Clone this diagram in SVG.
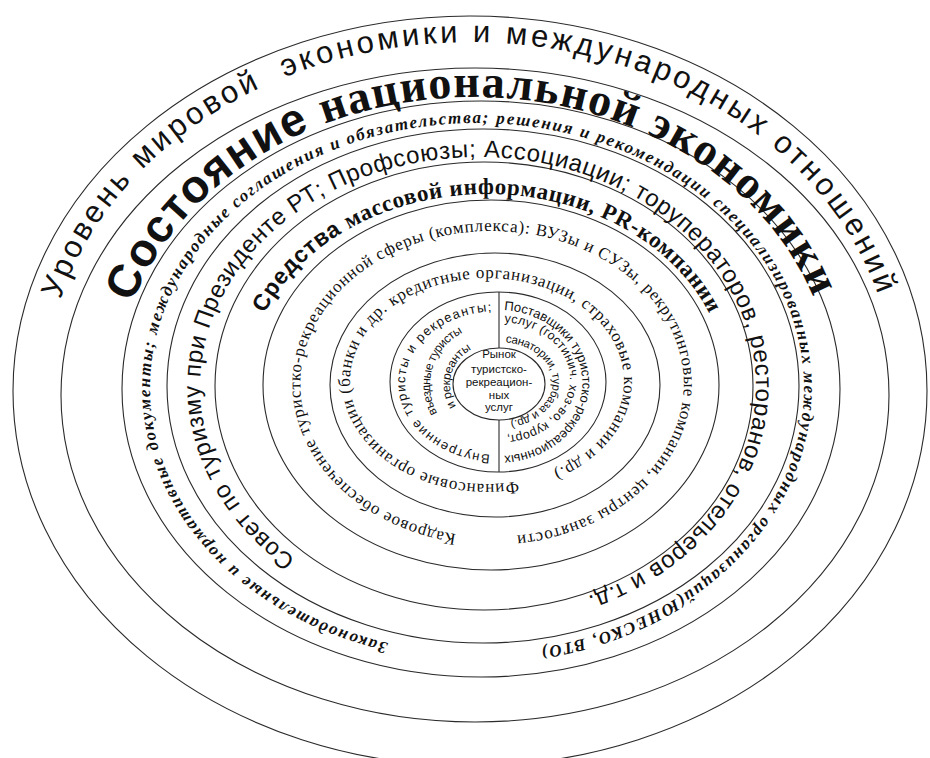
<svg xmlns="http://www.w3.org/2000/svg" width="930" height="758" viewBox="0 0 930 758">
<style>
.ring{fill:none;stroke:#2a2a2a;stroke-width:1.1}
.div{stroke:#2a2a2a;stroke-width:1.1}
.sans{font-family:"Liberation Sans",Arial,sans-serif}
.serif{font-family:"Liberation Serif","Times New Roman",serif}
text{fill:#111}
</style>
<defs>
<path id="p1" d="M 58.6 305.1 A 425 351 0 0 1 879.7 299.8"/>
<path id="p2" d="M 129.9 310.7 A 358 295 0 0 1 816 304.8"/>
<path id="p3" d="M 396.8 644.9 A 327 265 0 0 1 477 123 A 327 265 0 0 1 532.1 649.2"/>
<path id="p4" d="M 300.1 561.9 A 278 229 0 0 1 478 157 A 278 229 0 0 1 582.1 598.3"/>
<path id="p5" d="M 262.5 318.1 A 240 192 0 0 1 711.5 318.1"/>
<path id="p6" d="M 463 535.2 A 192 153 0 0 1 492 231 A 192 153 0 0 1 510.1 536.3"/>
<path id="p7" d="M 525 480 A 137 103 0 0 1 358.3 345.8 A 137 103 0 0 1 591.9 314.8 A 137 103 0 0 1 547.1 473.6"/>
<path id="p8a" d="M 493.9 454.9 A 93 72 0 0 1 495.6 311"/>
<path id="p8b" d="M 437.8 414 A 58 58 0 0 1 463.5 332.4"/>
<path id="p8c" d="M 457.2 407.9 A 40 40 0 0 1 473.1 348.7"/>
<path id="p9a" d="M 502.7 310.1 A 84 73 0 0 1 502.7 455.9"/>
<path id="p9b" d="M 502.7 322.1 A 71 57 0 0 1 505.2 435.8"/>
<path id="p9c" d="M 503.7 342.2 A 54 40 0 0 1 508.4 421.4"/>
</defs>
<rect width="930" height="758" fill="#fff"/>
<g id="rings">
<ellipse class="ring" cx="470" cy="391" rx="457" ry="375"/>
<ellipse class="ring" cx="475" cy="395" rx="414" ry="327"/>
<ellipse class="ring" cx="481" cy="389" rx="359" ry="288"/>
<ellipse class="ring" cx="483" cy="386" rx="316" ry="257"/>
<ellipse class="ring" cx="484" cy="386" rx="269" ry="224"/>
<ellipse class="ring" cx="491" cy="385" rx="228" ry="185"/>
<ellipse class="ring" cx="495" cy="385" rx="165" ry="132"/>
<ellipse class="ring" cx="498" cy="382" rx="108" ry="90"/>
</g>
<g id="connectors">
<line class="div" x1="499" y1="292" x2="499" y2="348"/>
<line class="div" x1="499" y1="420" x2="499" y2="472"/>
</g>
<g id="world">
<text class="sans" font-size="31" text-anchor="middle" style="white-space:pre"><textPath href="#p1" startOffset="50%" textLength="1025" lengthAdjust="spacing">Уровень мировой  экономики и международных отношений</textPath></text>
</g>
<g id="national">
<text font-size="46" font-weight="bold" text-anchor="middle"><textPath href="#p2" startOffset="50%" textLength="840" lengthAdjust="spacing"><tspan class="sans">Состояние </tspan><tspan class="serif">национальной экономики</tspan></textPath></text>
</g>
<g id="legal">
<text class="serif" font-size="17" font-weight="bold" font-style="italic" text-anchor="middle"><textPath href="#p3" startOffset="50%" textLength="1710" lengthAdjust="spacing">Законодательные и нормативные документы; международные соглашения и обязательства; решения и рекомендации специализированных международных организаций(ЮНЕСКО, ВТО)</textPath></text>
</g>
<g id="council">
<text class="sans" font-size="24" text-anchor="middle"><textPath href="#p4" startOffset="50%" textLength="1290" lengthAdjust="spacing">Совет по туризму при Президенте РТ; Профсоюзы; Ассоциации; торуператоров, ресторанов, отельеров и т.д.</textPath></text>
</g>
<g id="media">
<text font-size="23" font-weight="bold" text-anchor="middle"><textPath href="#p5" startOffset="50%" textLength="530" lengthAdjust="spacing"><tspan class="sans">Средства </tspan><tspan class="serif">массовой информации, PR-компании</tspan></textPath></text>
</g>
<g id="staff">
<text class="serif" font-size="17" text-anchor="middle"><textPath href="#p6" startOffset="50%" textLength="1025" lengthAdjust="spacing">Кадровое обеспечение туристко-рекреационной сферы (комплекса): ВУЗы и СУЗы, рекрутинговые компании, центры занятости</textPath></text>
</g>
<g id="finance">
<text class="serif" font-size="17" text-anchor="middle"><textPath href="#p7" startOffset="50%" textLength="720" lengthAdjust="spacing">Финансовые организации (банки и др. кредитные организации, страховые компании и др.)</textPath></text>
</g>
<g id="tourists">
<text class="sans" font-size="13" text-anchor="middle"><textPath href="#p8a" startOffset="50%" textLength="245" lengthAdjust="spacing">Внутренние туристы и рекреанты;</textPath></text>
<text class="sans" font-size="12" text-anchor="middle"><textPath href="#p8b" startOffset="50%" textLength="94" lengthAdjust="spacing">въездные туристы</textPath></text>
<text class="sans" font-size="12" text-anchor="middle"><textPath href="#p8c" startOffset="50%" textLength="66" lengthAdjust="spacing">и рекреанты</textPath></text>
</g>
<g id="suppliers">
<text class="sans" font-size="13" text-anchor="middle"><textPath href="#p9a" startOffset="50%" textLength="235" lengthAdjust="spacing">Поставщики туристско-рекреационных</textPath></text>
<text class="sans" font-size="12.5" text-anchor="middle"><textPath href="#p9b" startOffset="50%" textLength="188" lengthAdjust="spacing">услуг (гостинич. хоз-во, курорт,</textPath></text>
<text class="sans" font-size="11.5" text-anchor="middle"><textPath href="#p9c" startOffset="50%" textLength="130" lengthAdjust="spacing">санатории, турбаза и др.)</textPath></text>
</g>
<g id="market">
<ellipse class="ring" cx="499" cy="384" rx="46" ry="36"/>
<text class="sans" font-size="11.5" text-anchor="middle"><tspan x="499" y="358">Рынок</tspan><tspan x="499" y="373">туристско-</tspan><tspan x="499" y="386">рекреацион-</tspan><tspan x="499" y="399">ных</tspan><tspan x="499" y="411">услуг</tspan></text>
</g>
</svg>
